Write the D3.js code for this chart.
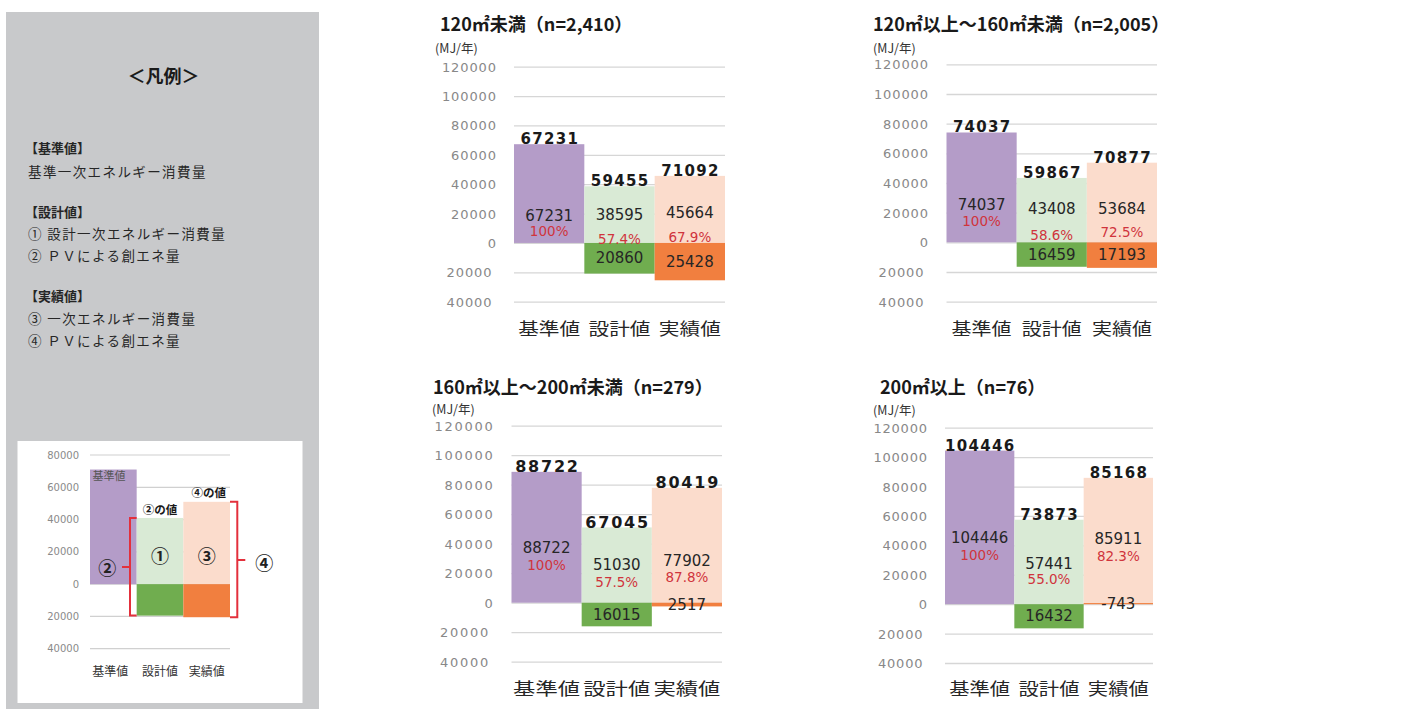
<!DOCTYPE html>
<html><head><meta charset="utf-8">
<script src="https://cdn.jsdelivr.net/npm/d3@7"></script>
<style>
html,body{margin:0;padding:0;background:#fff;}
svg{display:block;}
text{font-family:"DejaVu Sans",Verdana,sans-serif;}
.jp{font-family:"Noto Sans CJK JP","Noto Sans",sans-serif;}
</style></head><body>
<svg id="c" width="1407" height="709"></svg>
<script>
// ---------------- DATA ----------------
const categories = ["基準値", "設計値", "実績値"];
const chartTitles = [
  "120㎡未満（n=2,410）",
  "120㎡以上～160㎡未満（n=2,005）",
  "160㎡以上～200㎡未満（n=279）",
  "200㎡以上（n=76）"
];
const unitLabel = "(MJ/年)";
// primary energy consumption (positive part of each bar)
const consumption = [
  [67231, 38595, 45664],
  [74037, 43408, 53684],
  [88722, 51030, 77902],
  [104446, 57441, 85911]
];
// PV generation (drawn below zero)
const pvGeneration = [
  [0, 20860, 25428],
  [0, 16459, 17193],
  [0, 16015, 2517],
  [0, 16432, -743]
];
const totals = [
  [67231, 59455, 71092],
  [74037, 59867, 70877],
  [88722, 67045, 80419],
  [104446, 73873, 85168]
];
const ratios = [
  [100, 57.4, 67.9],
  [100, 58.6, 72.5],
  [100, 57.5, 87.8],
  [100, 55.0, 82.3]
];
const yTickValues = [120000, 100000, 80000, 60000, 40000, 20000, 0, -20000, -40000];

// legend panel content
const legendTitle = "＜凡例＞";
const legendLines = [
  ["【基準値】", true], ["基準一次エネルギー消費量", false],
  ["【設計値】", true], ["① 設計一次エネルギー消費量", false], ["② ＰＶによる創エネ量", false],
  ["【実績値】", true], ["③ 一次エネルギー消費量", false], ["④ ＰＶによる創エネ量", false]
];
const sampleTicks = [80000, 60000, 40000, 20000, 0, -20000, -40000];
const sampleConsumption = [71000, 41000, 51000];
const samplePV = [0, 19500, 20500];

// ---------------- LAYOUT ----------------
const colorsPos = ["#b49cc8", "#d9ead5", "#fbdccc"];
const colorsNeg = [null, "#70ad4f", "#f17f3f"];
const panels = [
  {x0:514, x1:725, yTop:66.7, yBot:301.7, tickR:496, titleX:440, titleY:22.5, unitX:435, unitY:47.5, catY:328.3, catLen:62, tickLS:0.9, totFont:15, totLS:1.3},
  {x0:946.5, x1:1157, yTop:64.3, yBot:301.7, tickR:928, titleX:873, titleY:22.5, unitX:873, unitY:47, catY:328.3, catLen:60, tickLS:0.9, totFont:15, totLS:1.3},
  {x0:511.5, x1:722, yTop:425.7, yBot:661.7, tickR:492.7, titleX:433, titleY:386, unitX:432, unitY:408.5, catY:687.5, catLen:67, tickLS:1.7, totFont:16, totLS:1.8},
  {x0:945, x1:1153, yTop:427.7, yBot:663, tickR:927, titleX:880, titleY:386, unitX:873, unitY:409.5, catY:688.3, catLen:61, tickLS:0.8, totFont:15, totLS:1.3}
];
// where the in-bar value / ratio labels sit (in data units)
const valueLabelAt = [[18400,19100,20400],[25200,22500,22500],[37100,25600,28300],[45000,27300,44300]];
const ratioLabelAt = [[8200,2700,4100],[14400,5000,7000],[25600,14000,17400],[33400,17100,32700]];

const svg = d3.select("#c");

// ---------------- LEGEND PANEL ----------------
const lg = svg.append("g");
lg.append("rect").attr("x",6).attr("y",12).attr("width",313).attr("height",697).attr("fill","#c8c9cb");
lg.append("text").attr("class","jp").attr("x",163.5).attr("y",75).attr("text-anchor","middle")
  .attr("dominant-baseline","central").attr("font-size",18).attr("font-weight",700).attr("fill","#1a1a1a")
  .text(legendTitle);
const legendY = [147, 171, 211, 233, 255, 295, 318, 340];
legendLines.forEach((d,i)=>{
  lg.append("text").attr("class","jp").attr("x", d[1] ? 25 : 28).attr("y",legendY[i])
    .attr("dominant-baseline","central").attr("font-size", d[1] ? 13 : 13.5)
    .attr("letter-spacing", d[1] ? 0 : 1.4)
    .attr("font-weight", d[1] ? 700 : 400).attr("fill","#262626").text(d[0]);
});
lg.append("rect").attr("x",17.5).attr("y",441).attr("width",285).attr("height",262).attr("fill","#fff");

const sx = d3.scaleBand().domain(categories).range([90,230]).padding(0);
const sy = d3.scaleLinear().domain([-40000,80000]).range([648.7,455]);
lg.selectAll(".sg").data(sampleTicks).join("line")
  .attr("x1",90).attr("x2",230).attr("y1",d=>sy(d)).attr("y2",d=>sy(d))
  .attr("stroke","#d0d0d0").attr("stroke-width",1.2);
lg.selectAll(".st").data(sampleTicks).join("text")
  .attr("x",79).attr("y",d=>sy(d)).attr("text-anchor","end").attr("dominant-baseline","central")
  .attr("font-size",10).attr("fill","#8a8a8a").text(d=>Math.abs(d));
lg.selectAll(".sb").data(sampleConsumption).join("rect")
  .attr("x",(d,i)=>sx(categories[i])).attr("width",sx.bandwidth())
  .attr("y",d=>sy(d)).attr("height",d=>sy(0)-sy(d)).attr("fill",(d,i)=>colorsPos[i]);
lg.selectAll(".sn").data(samplePV).join("rect")
  .attr("x",(d,i)=>sx(categories[i])).attr("width",sx.bandwidth())
  .attr("y",sy(0)).attr("height",d=>sy(-d)-sy(0)).attr("fill",(d,i)=>colorsNeg[i]||"none");
lg.selectAll(".sc").data(categories).join("text").attr("class","jp")
  .attr("x",(d,i)=>sx(d)+sx.bandwidth()/2 - (i===0?3:0)).attr("y",670).attr("text-anchor","middle")
  .attr("dominant-baseline","central").attr("font-size",12).attr("fill","#333").text(d=>d);
// annotations inside sample
const bw = sx.bandwidth();
lg.append("text").attr("class","jp").attr("x",sx("基準値")+2.5).attr("y",sy(sampleConsumption[0])+5)
  .attr("dominant-baseline","central").attr("font-size",11).attr("fill","#555").text("基準値");
lg.append("text").attr("class","jp").attr("x",sx("設計値")+bw/2).attr("y",sy(sampleConsumption[1])-9)
  .attr("text-anchor","middle").attr("dominant-baseline","central").attr("font-size",11.5).attr("font-weight",700).attr("fill","#1a1a1a").text("②の値");
lg.append("text").attr("class","jp").attr("x",sx("実績値")+bw/2+2).attr("y",sy(sampleConsumption[2])-10)
  .attr("text-anchor","middle").attr("dominant-baseline","central").attr("font-size",11.5).attr("font-weight",700).attr("fill","#1a1a1a").text("④の値");
const circ = [["①", sx("設計値")+bw/2, sy(18000)], ["③", sx("実績値")+bw/2, sy(18000)], ["②", 107.3, sy(10600)], ["④", 264.3, sy(14000)]];
circ.forEach(c=>{
  lg.append("text").attr("class","jp").attr("x",c[1]).attr("y",c[2]).attr("text-anchor","middle")
    .attr("dominant-baseline","central").attr("font-size",18).attr("font-weight",700).attr("fill","#222").text(c[0]);
});
// red brackets
const lbTop = sy(sampleConsumption[1]), lbBot = sy(-samplePV[1]);
const lbX = 130, lbR = sx("設計値");
lg.append("path").attr("d",`M${lbR},${lbTop} H${lbX} V${lbBot} H${lbR} M${lbX},${sy(10600)} H${lbX-8}`)
  .attr("fill","none").attr("stroke","#e3303c").attr("stroke-width",2);
const rbTop = sy(sampleConsumption[2]), rbBot = sy(-samplePV[2]);
const rbX = 237.3, rbL = 230;
lg.append("path").attr("d",`M${rbL},${rbTop} H${rbX} V${rbBot} H${rbL} M${rbX},${sy(15000)} H${rbX+8}`)
  .attr("fill","none").attr("stroke","#e3303c").attr("stroke-width",2);

// ---------------- MAIN CHARTS ----------------
const fmtRatio = v => v === 100 ? "100%" : v.toFixed(1) + "%";
panels.forEach((p, ci) => {
  const g = svg.append("g");
  const x = d3.scaleBand().domain(categories).range([p.x0, p.x1]).padding(0);
  const y = d3.scaleLinear().domain([-40000, 120000]).range([p.yBot, p.yTop]);

  g.append("text").attr("class","jp").attr("x",p.titleX).attr("y",p.titleY)
    .attr("dominant-baseline","central").attr("font-size",18).attr("font-weight",700)
    .attr("fill","#1a1a1a").text(chartTitles[ci]);
  g.append("text").attr("class","jp").attr("x",p.unitX).attr("y",p.unitY)
    .attr("dominant-baseline","central").attr("font-size",12.5).attr("fill","#333").text(unitLabel);

  // gridlines + tick labels via axis
  const axis = d3.axisLeft(y).tickValues(yTickValues).tickSize(-(p.x1 - p.x0)).tickFormat(d => Math.abs(d));
  const ag = g.append("g").attr("transform", `translate(${p.x0},0)`).call(axis);
  ag.select(".domain").remove();
  ag.selectAll(".tick line").attr("stroke","#d6d6d6").attr("stroke-width",1.3);
  ag.selectAll(".tick text")
    .attr("x", d => (p.tickR - p.x0) + p.tickLS - (d < 0 ? 4.5 : 0))
    .attr("dy", null).attr("dominant-baseline","central")
    .attr("font-family","DejaVu Sans").attr("font-size",13).attr("letter-spacing",p.tickLS)
    .attr("fill","#888");

  // positive bars
  g.selectAll(".pos").data(consumption[ci]).join("rect")
    .attr("x",(d,i)=>x(categories[i])).attr("width",x.bandwidth())
    .attr("y",d=>y(d)).attr("height",d=>y(0)-y(d)).attr("fill",(d,i)=>colorsPos[i]);
  // negative (PV) bars
  g.selectAll(".neg").data(pvGeneration[ci]).join("rect")
    .attr("x",(d,i)=>x(categories[i])).attr("width",x.bandwidth())
    .attr("y",d=>Math.min(y(0), y(-d))).attr("height",d=>Math.abs(y(-d)-y(0)))
    .attr("fill",(d,i)=>colorsNeg[i]||"none");

  const cx = i => x(categories[i]) + x.bandwidth()/2;
  // totals (bold, above bar)
  g.selectAll(".tot").data(totals[ci]).join("text")
    .attr("x",(d,i)=>cx(i)+p.totLS/2).attr("y",(d,i)=>y(consumption[ci][i]) - 5)
    .attr("text-anchor","middle").attr("dominant-baseline","central")
    .attr("font-size",p.totFont).attr("font-weight",700).attr("letter-spacing",p.totLS)
    .attr("fill","#1a1a1a").text(d=>d);
  // in-bar consumption values
  g.selectAll(".val").data(consumption[ci]).join("text")
    .attr("x",(d,i)=>cx(i)).attr("y",(d,i)=>y(valueLabelAt[ci][i]))
    .attr("text-anchor","middle").attr("dominant-baseline","central")
    .attr("font-size",15).attr("fill","#262626").text(d=>d);
  // ratios
  g.selectAll(".rat").data(ratios[ci]).join("text")
    .attr("x",(d,i)=>cx(i)).attr("y",(d,i)=>y(ratioLabelAt[ci][i]))
    .attr("text-anchor","middle").attr("dominant-baseline","central")
    .attr("font-size",13.5).attr("fill","#d0343c").text(fmtRatio);
  // PV values
  g.selectAll(".pv").data(pvGeneration[ci].map((d,i)=>({d,i})).filter(o=>o.d!==0)).join("text")
    .attr("x",o=>cx(o.i)).attr("y",o=>(y(0)+y(-o.d))/2)
    .attr("text-anchor","middle").attr("dominant-baseline","central")
    .attr("font-size",15).attr("fill","#262626").text(o=>o.d);
  // category labels
  g.selectAll(".cat").data(categories).join("text").attr("class","jp")
    .attr("x",(d,i)=>cx(i)).attr("y",p.catY).attr("text-anchor","middle")
    .attr("dominant-baseline","central").attr("font-size",16.5)
    .attr("textLength",p.catLen).attr("lengthAdjust","spacingAndGlyphs")
    .attr("fill","#262626").text(d=>d);
});
</script>
</body></html>
